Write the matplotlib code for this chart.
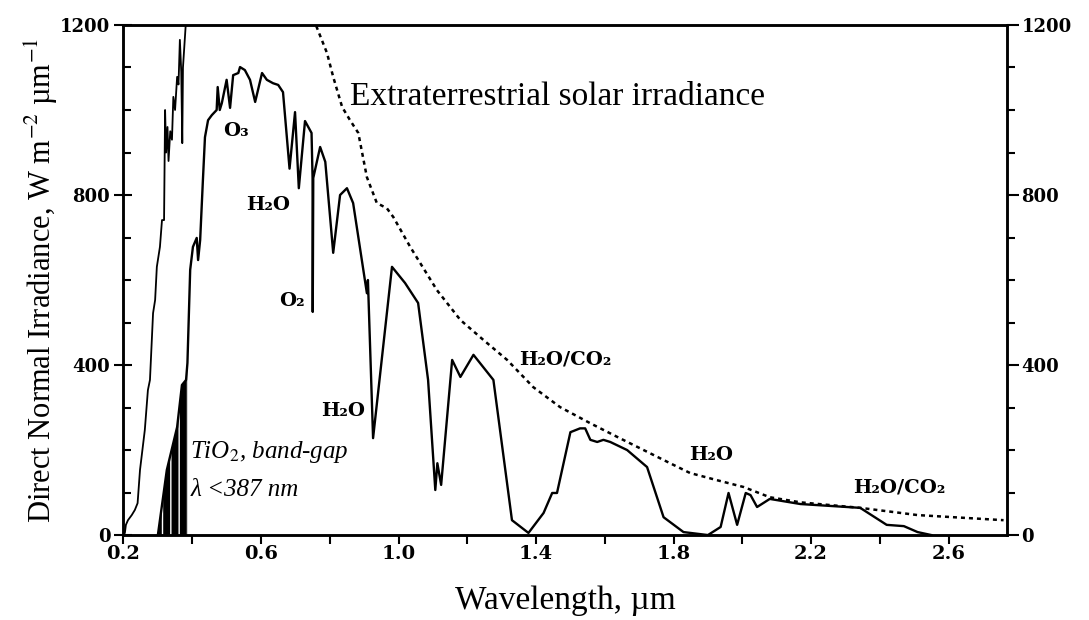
"""Direct normal vs extraterrestrial solar irradiance, with TiO2 band-gap region."""
import matplotlib
matplotlib.use("Agg")
import matplotlib.pyplot as plt
from matplotlib.ticker import MultipleLocator

plt.rcParams["mathtext.fontset"] = "stix"

# direct normal irradiance (solid), W m-2 um-1
dn_wl = [0.300, 0.326, 0.356, 0.370, 0.382, 0.386, 0.394, 0.402, 0.413, 0.417,
         0.423, 0.431, 0.437, 0.446, 0.457, 0.471, 0.474, 0.480, 0.486, 0.500,
         0.510, 0.519, 0.534, 0.539, 0.553, 0.568, 0.583, 0.603, 0.617, 0.635,
         0.650, 0.664, 0.683, 0.699, 0.710, 0.728, 0.747, 0.750, 0.7505, 0.752,
         0.772, 0.787, 0.810, 0.830, 0.850, 0.868, 0.908, 0.911, 0.926, 0.981,
         1.019, 1.057, 1.086, 1.107, 1.113, 1.124, 1.156, 1.180, 1.218, 1.276,
         1.330, 1.378, 1.422, 1.447, 1.461, 1.500, 1.528, 1.543, 1.558, 1.578,
         1.596, 1.616, 1.665, 1.723, 1.771, 1.829, 1.900, 1.937, 1.960, 1.985,
         2.010, 2.024, 2.043, 2.080, 2.169, 2.343, 2.420, 2.470, 2.510, 2.550]
dn_val = [0, 153, 254, 353, 365, 405, 624, 678, 699, 647,
          694, 835, 936, 976, 988, 1000, 1054, 1000, 1016, 1071,
          1005, 1082, 1087, 1101, 1094, 1071, 1019, 1087, 1071, 1063,
          1059, 1042, 862, 995, 816, 974, 946, 840, 525, 840,
          913, 878, 664, 800, 816, 781, 569, 600, 228, 631,
          593, 546, 365, 106, 169, 118, 412, 372, 424, 365,
          35, 5, 52, 99, 99, 242, 251, 251, 224, 219,
          224, 219, 200, 160, 42, 7, 0, 19, 99, 24,
          99, 94, 66, 85, 73, 64, 24, 21, 7, 0]

# extraterrestrial irradiance, UV part (solid, runs off the top)
et_uv_wl = [0.200, 0.204, 0.207, 0.213, 0.224, 0.233, 0.241, 0.248, 0.262, 0.271,
            0.277, 0.286, 0.292, 0.297, 0.306, 0.312, 0.318, 0.321, 0.324, 0.328,
            0.331, 0.336, 0.341, 0.345, 0.350, 0.356, 0.360, 0.364, 0.368, 0.371,
            0.373, 0.385]
et_uv_val = [0, 5, 24, 35, 47, 59, 75, 153, 247, 341,
             365, 522, 553, 631, 678, 741, 741, 1000, 900, 960,
             880, 950, 930, 1031, 1000, 1078, 1060, 1165, 1090, 922,
             1100, 1250]

# extraterrestrial irradiance beyond the visible (dotted)
et_wl = [0.752, 0.763, 0.792, 0.810, 0.836, 0.859, 0.883, 0.908, 0.937, 0.966,
         0.985, 1.034, 1.112, 1.180, 1.247, 1.316, 1.392, 1.470, 1.558, 1.636,
         1.713, 1.790, 1.848, 1.927, 2.004, 2.080, 2.169, 2.343, 2.510, 2.760]
et_val = [1215, 1193, 1134, 1078, 1007, 976, 946, 842, 781, 769,
          748, 678, 576, 506, 459, 412, 348, 301, 263, 231,
          200, 169, 146, 129, 113, 89, 77, 64, 47, 35]

# TiO2 absorption edge
gap_um = 0.387

# absorption band labels: text, wavelength, irradiance
bands = [("O₃", 0.527, 951), ("H₂O", 0.620, 776), ("O₂", 0.690, 551),
         ("H₂O", 0.839, 292), ("H₂O/CO₂", 1.485, 412), ("H₂O", 1.910, 188),
         ("H₂O/CO₂", 2.457, 113)]

x_ticks = [0.2, 0.6, 1.0, 1.4, 1.8, 2.2, 2.6]
x_minor = [0.4, 0.8, 1.2, 1.6, 2.0, 2.4]
y_ticks = [0, 400, 800, 1200]

fig = plt.figure(figsize=(10.89, 6.2), dpi=100)
ax = fig.add_axes([0.1134, 0.137, 0.8113, 0.8227])

ax.plot(dn_wl, dn_val, color="black", lw=1.7)
ax.plot(et_uv_wl, et_uv_val, color="black", lw=1.3)
ax.plot(et_wl, et_val, color="black", lw=1.8, ls=(0, (1.6, 1.6)))

gx = [w for w in dn_wl if w <= gap_um] + [gap_um]
gy = [v for w, v in zip(dn_wl, dn_val) if w <= gap_um] + [372]
ax.fill_between(gx, gy, 0, facecolor="black", edgecolor="white",
                hatch="||", linewidth=0)

ax.set_xlim(0.2, 2.77)
ax.set_ylim(0, 1200)

tickfont = dict(family="DejaVu Serif", weight="bold", size=13)
ax.set_xticks(x_ticks)
ax.set_xticks(x_minor, minor=True)
ax.set_xticklabels([f"{t:.1f}" for t in x_ticks], family="DejaVu Serif",
                   weight="bold", size=14)
ax.set_yticks(y_ticks)
ax.yaxis.set_minor_locator(MultipleLocator(100))
ax.set_yticklabels([str(t) for t in y_ticks], **tickfont)
ax.tick_params(axis="x", which="both", direction="out", length=6.5, width=1.5,
               pad=1)
ax.tick_params(axis="y", which="major", direction="inout", length=13, width=1.5,
               pad=3)
ax.tick_params(axis="y", which="minor", direction="in", length=5.5, width=1.5)

ax2 = ax.twinx()
ax2.set_ylim(0, 1200)
ax2.set_yticks(y_ticks)
ax2.yaxis.set_minor_locator(MultipleLocator(100))
ax2.set_yticklabels([str(t) for t in y_ticks], **tickfont)
ax2.tick_params(axis="y", which="major", direction="out", length=8.5, width=1.5,
                pad=2)
ax2.tick_params(axis="y", which="minor", direction="out", length=5.5, width=1.5)

for a in (ax, ax2):
    for s in a.spines.values():
        s.set_linewidth(1.8)

ax.set_xlabel("Wavelength, µm", family="Liberation Serif", size=24, labelpad=16)
ax.set_ylabel("Direct Normal Irradiance, W m$^{-2}$ µm$^{-1}$",
              family="Liberation Serif", size=22, labelpad=0)

ax.text(0.859, 1031, "Extraterrestrial solar irradiance", family="Liberation Serif",
        size=24, ha="left", va="center")
ax.text(0.394, 195, "TiO$_2$, band-gap", family="Liberation Serif", style="italic",
        size=18, ha="left", va="center")
ax.text(0.394, 106, "λ <387 nm", family="Liberation Serif", style="italic",
        size=18, ha="left", va="center")

for txt, x, y in bands:
    ax.text(x, y, txt, family="DejaVu Serif", weight="bold", size=14,
            ha="center", va="center")

fig.savefig("out.png", dpi=100)
